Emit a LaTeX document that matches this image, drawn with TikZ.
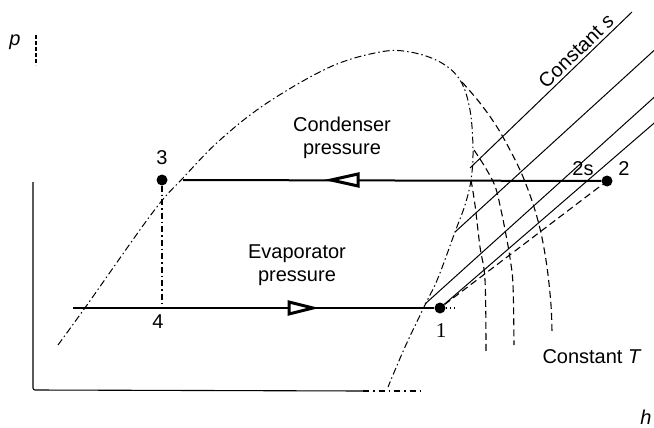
\documentclass[tikz,border=0pt]{standalone}
\usepackage{fontspec}
\setmainfont{Liberation Sans}
\newfontfamily\serifone{Liberation Serif}
\begin{document}
\begin{tikzpicture}[x=1pt,y=-1pt,
  lbl/.style={font=\fontsize{20}{23}\selectfont, inner sep=1pt, align=center},
  domeline/.style={line width=1pt, dash pattern=on 7pt off 3pt on 1.5pt off 3pt},
  tcurve/.style={line width=1.1pt, dash pattern=on 7pt off 4pt},
  sline/.style={line width=1pt},
  pline/.style={line width=2pt},
  axisline/.style={line width=1.1pt},
  ptdot/.style={circle, fill=black, inner sep=0pt, minimum size=11pt},
  tri/.style={line width=3pt, fill=white, line join=miter}]
\useasboundingbox (0,0) rectangle (654,428);

% axes
\coordinate (axtop) at (33,182);
\coordinate (axcorner) at (33,390);
\coordinate (axend) at (363,391);
\coordinate (axfar) at (420,391);
\coordinate (ptop) at (36,35);
\coordinate (pbot) at (36,65);
\draw[axisline, rounded corners=2pt] (axtop) -- (axcorner) -- (axend);
\draw[axisline, dash pattern=on 6pt off 4pt on 1.5pt off 4pt] (axend) -- (axfar);
\draw[axisline, dash pattern=on 4pt off 2pt] (ptop) -- (pbot);
\node[lbl, font=\fontsize{20}{23}\selectfont\itshape] (plab) at (15,42) {p};
\node[lbl, font=\fontsize{20}{23}\selectfont\itshape] (hlab) at (646,417) {h};

% saturation dome
\draw[domeline] plot[smooth, tension=0.6] coordinates {
 (58,345) (87,305) (153,212) (183,178) (220,140) (267,103) (330,67)
 (380,52) (410,52) (440,62) (460,80) (470,110) (473,150) (471,180)
 (465,205) (455,232) (438,278) (425,305) (405,347) (388,387)};

% constant T curves
\draw[tcurve] plot[smooth, tension=0.6] coordinates {
 (462,82) (480,103) (497,127) (510,150) (520,170) (527,187) (534,207)
 (541,233) (547,267) (551,305) (552,333)};
\draw[tcurve] plot[smooth, tension=0.6] coordinates {
 (474,150) (485,167) (495,186) (501,210) (506,235) (510,258) (513,285) (514,345)};
\draw[tcurve] plot[smooth, tension=0.6] coordinates {
 (471,180) (475,205) (480,247) (485,280) (486,352)};
\node[lbl] (constT) at (592,357) {Constant \textit{T}};

% points
\node[ptdot] (p3) at (162,180) {};
\node[ptdot] (p2) at (607,181) {};
\node[ptdot] (p1) at (440,308) {};
\coordinate (p4) at (162,308);
\coordinate (cleft) at (183,180);
\coordinate (eleft) at (73,308);
\coordinate (eright) at (457,308);

% constant s lines
\coordinate (sa0) at (470,168); \coordinate (sa1) at (632,12);
\coordinate (sb0) at (455,232); \coordinate (sb1) at (660,45);
\coordinate (sc0) at (425,304); \coordinate (sc1) at (660,92);
\coordinate (sd1) at (660,118);
\draw[sline] (sa0) -- node[pos=0.7, sloped, above=2pt, lbl] (constS) {Constant \textit{s}} (sa1);
\draw[sline] (sb0) -- (sb1);
\draw[sline] (sc0) -- (sc1);
\draw[sline] (p1) -- (sd1);
\draw[line width=1.1pt, dash pattern=on 7pt off 4pt] (p1) -- (p2);

% pressure lines
\draw[pline] (p2) -- (cleft);
\draw[pline] (eleft) -- (p1);
\draw[line width=1.1pt, dash pattern=on 1.5pt off 2.5pt] (p1) -- (eright);
\draw[line width=1.1pt, dash pattern=on 6pt off 3pt on 1.5pt off 3pt] (p3) -- (p4);

% flow arrows
\draw[tri] (331,180) -- (358,174) -- (358,186) -- cycle;
\draw[tri] (313,308) -- (289,302) -- (289,314) -- cycle;

% labels
\node[lbl] (l3) at (162,158) {3};
\node[lbl] (l4) at (158,322) {4};
\node[lbl] (l2) at (624,169) {2};
\node[lbl] (l2s) at (583,169) {2s};
\node[lbl, font=\fontsize{21}{23}\selectfont\serifone] (l1) at (441,331) {1};
\node[lbl] (cond) at (342,138) {Condenser\\pressure};
\node[lbl] (evap) at (297,265) {Evaporator\\pressure};
\end{tikzpicture}
\end{document}
